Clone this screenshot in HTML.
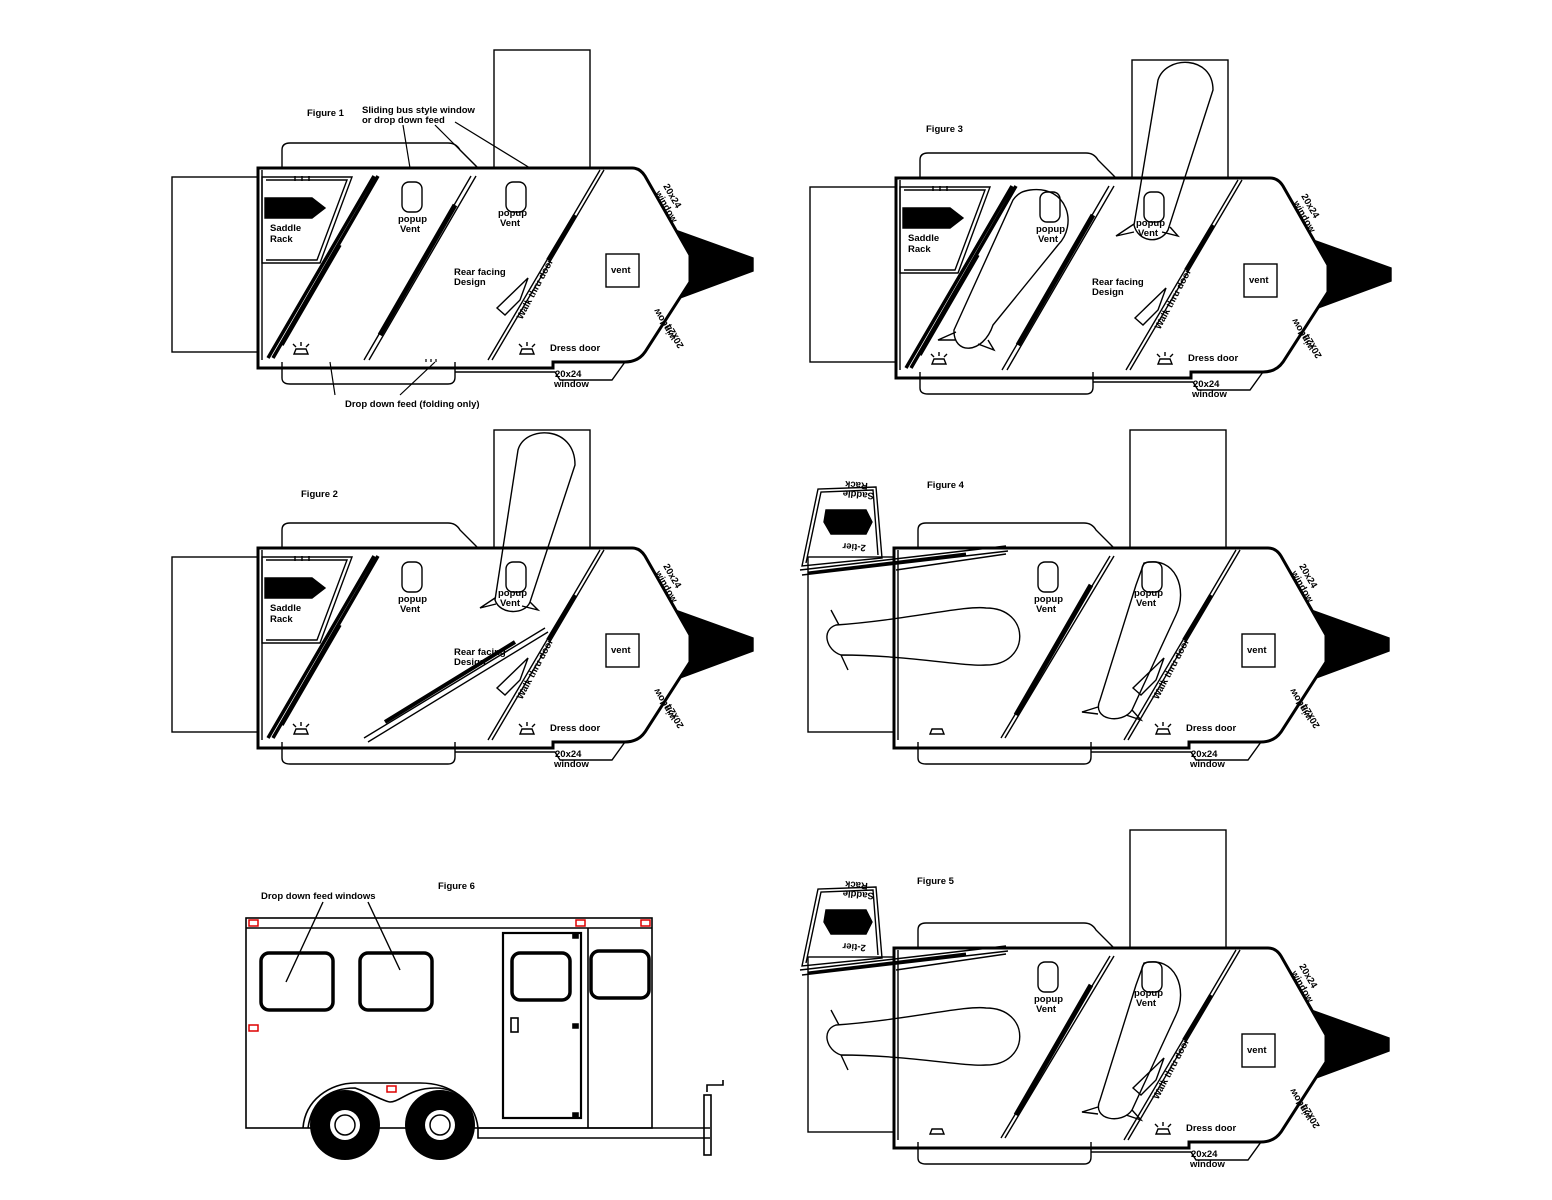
<!DOCTYPE html>
<html><head><meta charset="utf-8"><style>
html,body{margin:0;padding:0;background:#fff}
svg{display:block}
text{font-family:"Liberation Sans",sans-serif;font-size:9.5px;font-weight:bold;fill:#000}
</style></head><body>
<svg width="1552" height="1200" viewBox="0 0 1552 1200" xmlns="http://www.w3.org/2000/svg">
<defs>
<g id="base" fill="none" stroke="#000" stroke-width="1.4">
  <rect x="494" y="50" width="96" height="118"/>
  <path d="M282,168 V150 Q282,143 290,143 H448 Q456,143 460,150 L478,168"/>
  <rect x="172" y="177" width="86" height="175"/>
  <path d="M282,362 V378 Q282,384 290,384 H448 Q455,384 455,377 V362"/>
  <path d="M455,372 H555 L560,380 H612 L625,362"/>
  <path d="M258,168 H632 Q640,168 645,176 L690,255 L690,282 L645,352 Q638,362 625,362 H553 V368 H258 Z" stroke-width="3"/>
  <line x1="262" y1="170" x2="262" y2="360"/>
  <path d="M678,231 L753,258 L753,271 L680,298 L690,282 L690,255 Z" fill="#000"/>
  <rect x="606" y="254" width="33" height="33"/>
  <path d="M488,360 L600,170 M492,360 L604,170" />
  <path d="M548,260 L575,215" stroke-width="4"/>
  <path d="M520,300 L528,278 L497,308 L505,315 Z"/>
  <path d="M520,354 h14 l-2,-5 h-10 z M522,347 l-3,-3 M527,346 v-4 M532,347 l3,-3"/>
</g>
<g id="saddle" fill="none" stroke="#000" stroke-width="1.4">
  <path d="M262,177 H352 L320,263 H262 Z M266,180 H347 L317,260 H266"/>
  <path d="M265,198 H312 L325,208 L312,218 H265 Z" fill="#000"/>
  <path d="M295,176 v5 M302,176 v5 M309,176 v5"/>
</g>
<g id="div1" fill="none" stroke="#000" stroke-width="1.4"><path d="M268,358 L374,176 M273,358 L378,176 M282,345 L340,245" stroke-width="3.5"/></g>
<g id="div2" fill="none" stroke="#000" stroke-width="1.4"><path d="M364,360 L471,176 M369,360 L476,176" /><path d="M380,335 L455,205" stroke-width="5"/></g>
<g id="light1" fill="none" stroke="#000" stroke-width="1.4"><path d="M294,354 h14 l-2,-5 h-10 z M296,347 l-3,-3 M301,346 v-4 M306,347 l3,-3"/></g>
<g id="vent1" fill="none" stroke="#000" stroke-width="1.4"><rect x="402" y="182" width="20" height="30" rx="7"/></g>
<g id="vent2" fill="none" stroke="#000" stroke-width="1.4"><rect x="506" y="182" width="20" height="30" rx="7"/></g>
</defs>

<!-- Figure 1 -->
<use href="#base"/><use href="#saddle"/><use href="#div1"/><use href="#div2"/><use href="#light1"/><use href="#vent1"/><use href="#vent2"/>
<g fill="none" stroke="#000" stroke-width="1.2"><path d="M403,125 L410,168 M435,125 L478,168 M455,122 L530,168 M335,395 L330,362 M400,395 L435,362"/><path d="M426,362 v-3 M431,362 v-3 M436,362 v-3"/></g>
<text x="307" y="116">Figure 1</text>
<text x="362" y="113">Sliding bus style window</text>
<text x="362" y="123">or drop down feed</text>
<text x="345" y="407">Drop down feed (folding only)</text>
<text x="270" y="231">Saddle</text><text x="270" y="242">Rack</text>
<text x="398" y="222">popup</text><text x="400" y="232">Vent</text>
<text x="498" y="216">popup</text><text x="500" y="226">Vent</text>
<text x="454" y="275">Rear facing</text><text x="454" y="285">Design</text>
<text x="611" y="273">vent</text>
<text x="550" y="351">Dress door</text>
<text x="555" y="377">20x24</text><text x="554" y="387">window</text>
<text transform="translate(522,320) rotate(-62)">Walk thru door</text>
<text transform="translate(663,186) rotate(60)">20x24</text><text transform="translate(655,193) rotate(60)">window</text>
<text transform="translate(684,346) rotate(-120)">20x24</text><text transform="translate(676,338) rotate(-120)">window</text>

<!-- Figure 2 -->
<g transform="translate(0,380)">
<use href="#base"/><use href="#saddle"/><use href="#div1"/><use href="#light1"/><use href="#vent1"/><use href="#vent2"/>
<g fill="none" stroke="#000" stroke-width="1.4">
<path d="M364,358 L545,248 M368,362 L548,252"/><path d="M385,342 L515,262" stroke-width="4"/>
<path d="M495,220 L518,70 C525,45 575,45 575,85 L530,222 C525,235 500,235 495,220 Z M495,218 L480,228 L496,224 M530,222 L538,230 L522,226"/>
</g>
<text x="270" y="231">Saddle</text><text x="270" y="242">Rack</text>
<text x="398" y="222">popup</text><text x="400" y="232">Vent</text>
<text x="498" y="216">popup</text><text x="500" y="226">Vent</text>
<text x="454" y="275">Rear facing</text><text x="454" y="285">Design</text>
<text x="611" y="273">vent</text><text x="550" y="351">Dress door</text>
<text x="555" y="377">20x24</text><text x="554" y="387">window</text>
<text transform="translate(522,320) rotate(-62)">Walk thru door</text>
<text transform="translate(663,186) rotate(60)">20x24</text><text transform="translate(655,193) rotate(60)">window</text>
<text transform="translate(684,346) rotate(-120)">20x24</text><text transform="translate(676,338) rotate(-120)">window</text>
</g>
<text x="301" y="497">Figure 2</text>

<!-- Figure 3 -->
<g transform="translate(638,10)">
<use href="#base"/><use href="#saddle"/><use href="#div1"/><use href="#div2"/><use href="#light1"/><use href="#vent1"/><use href="#vent2"/>
<g fill="none" stroke="#000" stroke-width="1.4">
<path d="M392,180 C430,175 440,215 420,235 L355,315 C345,345 315,345 316,320 L375,190 C380,183 385,181 392,180 Z M318,322 L300,330 L318,330 M350,330 L356,340 L340,334"/>
<path d="M496,215 L520,70 C528,45 575,45 575,80 L530,220 C522,235 500,232 496,215 Z M496,214 L478,226 L496,222 M532,217 L540,226 L524,222"/>
</g>
<text x="270" y="231">Saddle</text><text x="270" y="242">Rack</text>
<text x="398" y="222">popup</text><text x="400" y="232">Vent</text>
<text x="498" y="216">popup</text><text x="500" y="226">Vent</text>
<text x="454" y="275">Rear facing</text><text x="454" y="285">Design</text>
<text x="611" y="273">vent</text><text x="550" y="351">Dress door</text>
<text x="555" y="377">20x24</text><text x="554" y="387">window</text>
<text transform="translate(522,320) rotate(-62)">Walk thru door</text>
<text transform="translate(663,186) rotate(60)">20x24</text><text transform="translate(655,193) rotate(60)">window</text>
<text transform="translate(684,346) rotate(-120)">20x24</text><text transform="translate(676,338) rotate(-120)">window</text>
</g>
<text x="926" y="132">Figure 3</text>

<defs>
<g id="f45" fill="none" stroke="#000" stroke-width="1.4">
  <path d="M166,186 L182,109 L240,107 L246,178 Z M170,183 L185,112 L237,110 L242,175"/>
  <path d="M190,130 H230 L236,142 L230,154 H195 L188,142 Z" fill="#000"/>
  <path d="M164,190 L370,166 M166,195 L372,171 M260,190 L370,174" />
  <path d="M172,193 L330,174" stroke-width="3"/>
  <path d="M200,245 C270,240 330,225 350,228 C395,228 395,285 350,285 C330,287 270,275 205,275 C190,270 185,250 200,245 Z M203,245 L195,230 M205,275 L212,290"/>
  <path d="M365,358 L474,176 M369,358 L478,176"/><path d="M380,335 L455,205" stroke-width="5"/>
  <path d="M508,183 C540,175 552,210 540,235 L496,330 C486,345 455,340 464,320 L500,205 Z M462,327 L446,332 L462,334 M496,330 L505,340 L490,335"/>
  <rect x="402" y="182" width="20" height="30" rx="7"/><rect x="506" y="182" width="20" height="30" rx="7"/>
  <path d="M294,354 h14 l-2,-5 h-10 z"/>
</g>
</defs>
<g transform="translate(636,380)">
<use href="#base"/><use href="#f45"/>
<text transform="translate(238,113) rotate(185)">Saddle</text><text transform="translate(232,103) rotate(185)">Rack</text>
<text transform="translate(230,165) rotate(185)">2-tier</text>
<text x="398" y="222">popup</text><text x="400" y="232">Vent</text>
<text x="498" y="216">popup</text><text x="500" y="226">Vent</text>
<text x="611" y="273">vent</text><text x="550" y="351">Dress door</text>
<text x="555" y="377">20x24</text><text x="554" y="387">window</text>
<text transform="translate(522,320) rotate(-62)">Walk thru door</text>
<text transform="translate(663,186) rotate(60)">20x24</text><text transform="translate(655,193) rotate(60)">window</text>
<text transform="translate(684,346) rotate(-120)">20x24</text><text transform="translate(676,338) rotate(-120)">window</text>
</g>
<text x="927" y="488">Figure 4</text>

<g transform="translate(636,780)">
<use href="#base"/><use href="#f45"/>
<text transform="translate(238,113) rotate(185)">Saddle</text><text transform="translate(232,103) rotate(185)">Rack</text>
<text transform="translate(230,165) rotate(185)">2-tier</text>
<text x="398" y="222">popup</text><text x="400" y="232">Vent</text>
<text x="498" y="216">popup</text><text x="500" y="226">Vent</text>
<text x="611" y="273">vent</text><text x="550" y="351">Dress door</text>
<text x="555" y="377">20x24</text><text x="554" y="387">window</text>
<text transform="translate(522,320) rotate(-62)">Walk thru door</text>
<text transform="translate(663,186) rotate(60)">20x24</text><text transform="translate(655,193) rotate(60)">window</text>
<text transform="translate(684,346) rotate(-120)">20x24</text><text transform="translate(676,338) rotate(-120)">window</text>
</g>
<text x="917" y="884">Figure 5</text>

<!-- Figure 6 -->
<g fill="none" stroke="#000" stroke-width="1.6">
  <rect x="246" y="918" width="406" height="210"/>
  <line x1="246" y1="928" x2="652" y2="928"/>
  <rect x="261" y="953" width="72" height="57" rx="8" stroke-width="3.5"/>
  <rect x="360" y="953" width="72" height="57" rx="8" stroke-width="3.5"/>
  <rect x="503" y="933" width="78" height="185" stroke-width="2.2"/>
  <rect x="512" y="953" width="58" height="47" rx="8" stroke-width="3.5"/>
  <rect x="591" y="951" width="58" height="47" rx="8" stroke-width="3.5"/>
  <line x1="588" y1="928" x2="588" y2="1128"/>
  <rect x="511" y="1018" width="7" height="14"/>
  <path d="M578,938 h-5 v-4 h5 z M578,1028 h-5 v-4 h5 z M578,1117 h-5 v-4 h5 z" fill="#000"/>
  <path d="M303,1128 C305,1100 330,1083 355,1083 H420 C450,1083 475,1100 478,1128 V1138 H710"/>
  <path d="M308,1128 C312,1100 330,1088 355,1088 C375,1095 385,1102 390,1102 C400,1102 410,1088 435,1088 C460,1088 472,1105 473,1128"/>
  <line x1="478" y1="1128" x2="710" y2="1128"/>
  <rect x="704" y="1095" width="7" height="60"/>
  <path d="M707,1092 L707,1085 H723 V1080"/>
  <path d="M323,902 L286,982 M368,902 L400,970" stroke-width="1.4"/>
</g>
<circle cx="345" cy="1125" r="35" fill="#000"/><circle cx="345" cy="1125" r="15" fill="#fff"/><circle cx="345" cy="1125" r="10" fill="none" stroke="#000" stroke-width="1.5"/>
<circle cx="440" cy="1125" r="35" fill="#000"/><circle cx="440" cy="1125" r="15" fill="#fff"/><circle cx="440" cy="1125" r="10" fill="none" stroke="#000" stroke-width="1.5"/>
<g fill="none" stroke="#d00" stroke-width="1.5">
<rect x="249" y="920" width="9" height="6"/><rect x="576" y="920" width="9" height="6"/><rect x="641" y="920" width="9" height="6"/>
<rect x="249" y="1025" width="9" height="6"/><rect x="387" y="1086" width="9" height="6"/>
</g>
<text x="261" y="899">Drop down feed windows</text>
<text x="438" y="889">Figure 6</text>
</svg>
</body></html>
